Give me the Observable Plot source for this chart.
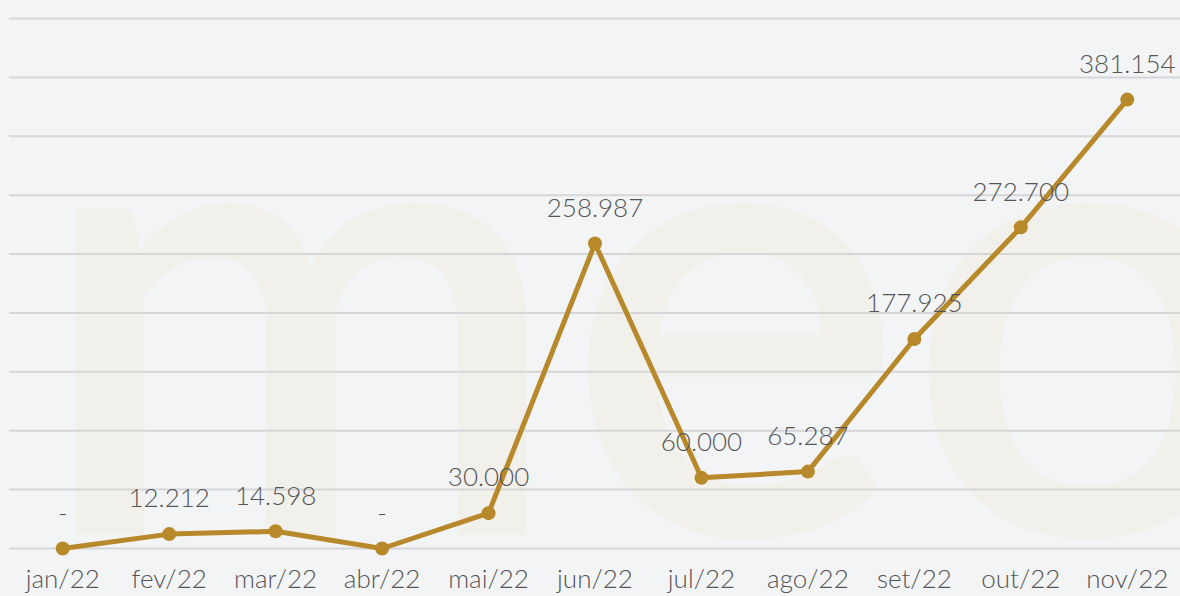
<!DOCTYPE html>
<html>
<head>
<meta charset="utf-8">
<script src="https://cdn.jsdelivr.net/npm/d3@7"></script>
<script src="https://cdn.jsdelivr.net/npm/@observablehq/plot@0.6"></script>
<style>
  html, body { margin: 0; padding: 0; background: #f3f4f6; }
  #chart svg { display: block; }
</style>
</head>
<body>
<div id="chart"></div>
<script>
const months = ["jan/22","fev/22","mar/22","abr/22","mai/22","jun/22","jul/22","ago/22","set/22","out/22","nov/22"];
const values = [0, 12212, 14598, 0, 30000, 258987, 60000, 65287, 177925, 272700, 381154];
const yTicks = [0, 50000, 100000, 150000, 200000, 250000, 300000, 350000, 400000, 450000];

const data = months.map((m, i) => ({month: m, value: values[i]}));
const fmt = v => v === 0 ? "-" : v.toLocaleString("pt-BR");

const chart = Plot.plot({
  width: 1180,
  height: 596,
  marginLeft: 9,
  marginRight: 0,
  marginTop: 18,
  marginBottom: 48,
  style: {background: "#f3f4f6", fontFamily: "Lato, 'Open Sans', sans-serif", fontWeight: 300, color: "#555"},
  x: {type: "point", domain: months, padding: 0.5, round: false, label: null},
  y: {domain: [0, 450000], label: null, axis: null},
  marks: [
    Plot.text(["meo"], {frameAnchor: "bottom-left", text: d => d, textAnchor: "start", lineAnchor: "bottom", dx: 24, dy: -14, fontSize: 640, fontWeight: 600, fill: "#f1f0ea"}),
    Plot.gridY(yTicks, {stroke: "#d6d6d9", strokeOpacity: 1, strokeWidth: 2}),
    Plot.axisX({tickSize: 0, tickPadding: 21, fontSize: 26, fill: "#555", fontWeight: 300}),
    Plot.line(data, {x: "month", y: "value", stroke: "#b8892a", strokeWidth: 5}),
    Plot.dot(data, {x: "month", y: "value", r: 7, fill: "#b8892a"}),
    Plot.text(data, {x: "month", y: "value", text: d => fmt(d.value), dy: -35, fontSize: 26, fill: "#555", fontWeight: 300})
  ]
});
document.getElementById("chart").appendChild(chart);
</script>
</body>
</html>
